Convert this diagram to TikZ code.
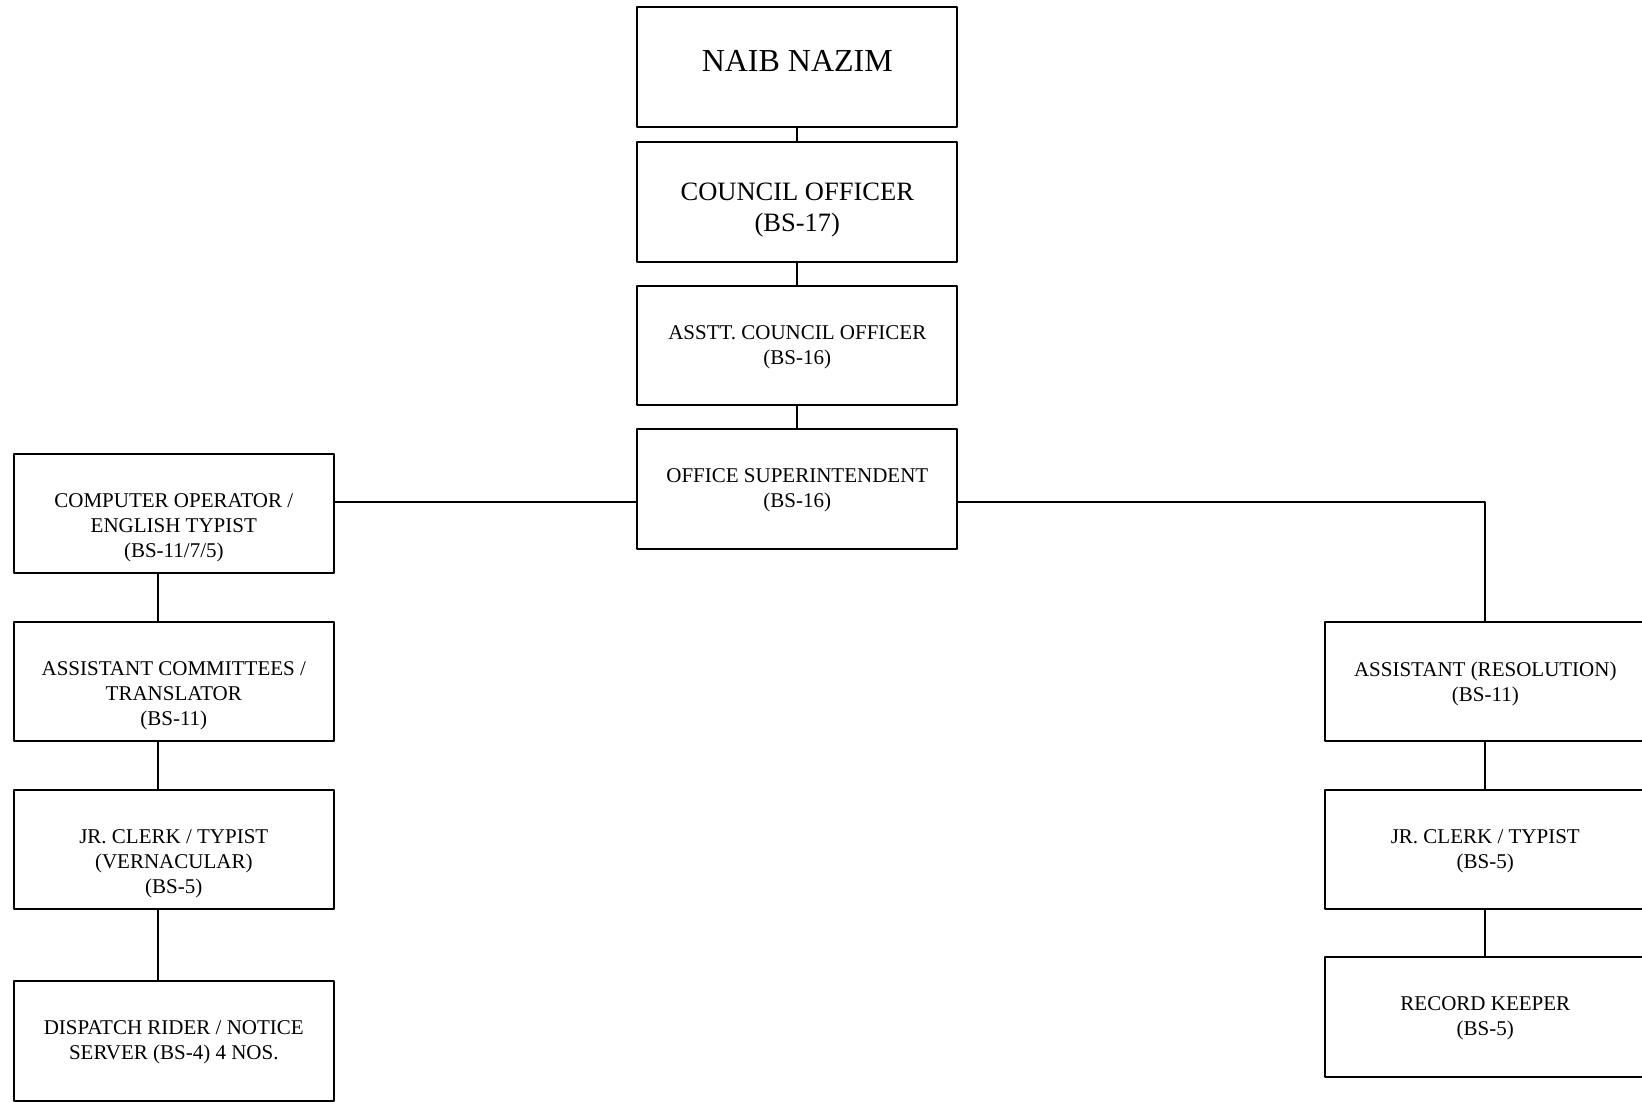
\documentclass[tikz,border=0pt]{standalone}
\usepackage{fontspec}
\setmainfont{Liberation Serif}
\newcommand{\posttext}[2]{\parbox[c][119.4pt][t]{310pt}{\centering\vspace*{#1}#2\par}}
\begin{document}
\begin{tikzpicture}[x=1pt, y=-1pt, line join=round,
	post/.style={draw, line width=2pt, inner sep=0pt, minimum width=320pt, minimum height=119.4pt, font=\fontsize{21}{25}\selectfont},
	bigpost/.style={post, font=\fontsize{26.5}{31}\selectfont},
	headpost/.style={post, font=\fontsize{32}{38}\selectfont},
	link/.style={line width=2pt}]

	\useasboundingbox (0,0) rectangle (1642,1102);
	%\draw[gray!10] (0,0) grid[step=100] (1642,1102);

	% centre column
	\node[headpost] (naib) at (797.3,67) {\posttext{43pt}{NAIB NAZIM}};
	\node[bigpost] (council) at (797.3,202.1) {\posttext{41pt}{COUNCIL OFFICER\\(BS-17)}};
	\node[post] (asstt) at (797.3,345.6) {\posttext{39.5pt}{ASSTT. COUNCIL OFFICER\\(BS-16)}};
	\node[post] (office) at (797.3,489) {\posttext{39.5pt}{OFFICE SUPERINTENDENT\\(BS-16)}};

	% left column
	\node[post] (comp) at (173.8,513.6) {\posttext{39.5pt}{COMPUTER OPERATOR /\\ENGLISH TYPIST\\(BS-11/7/5)}};
	\node[post] (assist) at (173.8,681.7) {\posttext{39.5pt}{ASSISTANT COMMITTEES /\\TRANSLATOR\\(BS-11)}};
	\node[post] (clerkl) at (173.8,849.3) {\posttext{39.5pt}{JR. CLERK / TYPIST\\(VERNACULAR)\\(BS-5)}};
	\node[post] (rider) at (173.8,1040.9) {\posttext{39.5pt}{DISPATCH RIDER / NOTICE\\SERVER (BS-4) 4 NOS.}};

	% right column
	\node[post] (resol) at (1485.3,681.7) {\posttext{39.5pt}{ASSISTANT (RESOLUTION)\\(BS-11)}};
	\node[post] (clerkr) at (1485.3,849.3) {\posttext{39.5pt}{JR. CLERK / TYPIST\\(BS-5)}};
	\node[post] (keeper) at (1485.3,1016.8) {\posttext{39.5pt}{RECORD KEEPER\\(BS-5)}};

	\coordinate (tee) at (0,501.6);
	\coordinate (lspine) at (157.5,0);

	\draw[link] (naib.south) -- (council.north);
	\draw[link] (council.south) -- (asstt.north);
	\draw[link] (asstt.south) -- (office.north);
	\draw[link] (office.west |- tee) -- (comp.east |- tee);
	\draw[link] (office.east |- tee) -| (resol.north);

	\draw[link] (comp.south -| lspine) -- (assist.north -| lspine);
	\draw[link] (assist.south -| lspine) -- (clerkl.north -| lspine);
	\draw[link] (clerkl.south -| lspine) -- (rider.north -| lspine);

	\draw[link] (resol.south) -- (clerkr.north);
	\draw[link] (clerkr.south) -- (keeper.north);
\end{tikzpicture}
\end{document}
